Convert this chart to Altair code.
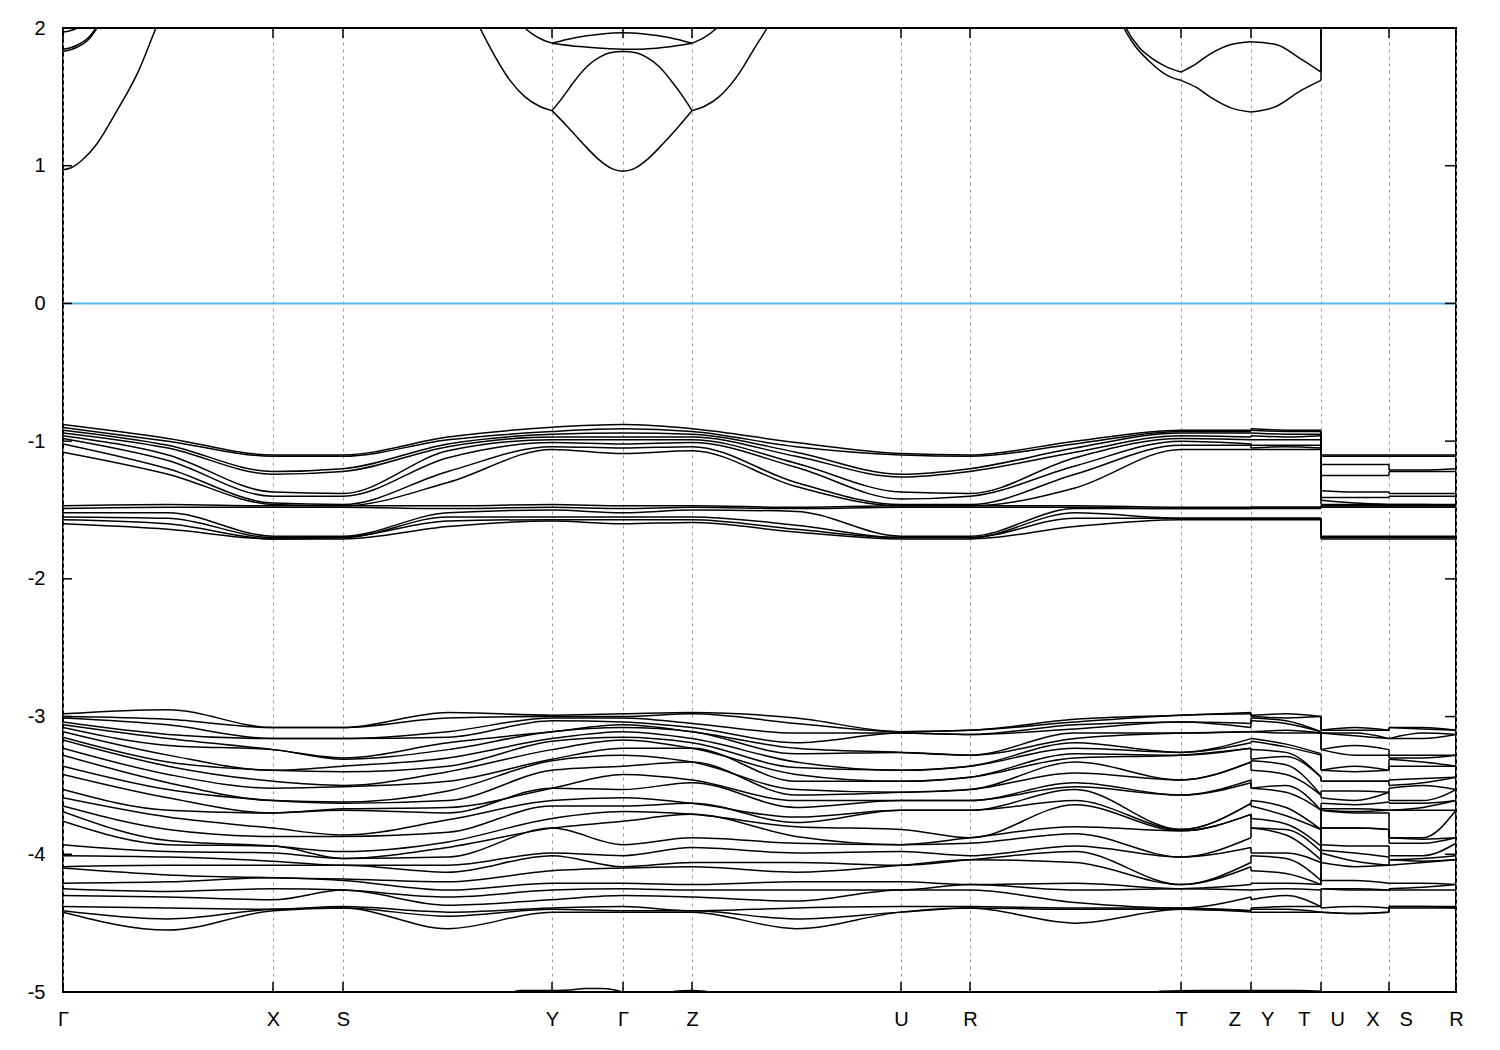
import altair as alt
import pandas as pd

FONT = "Liberation Sans Narrow, Liberation Sans, Arial, sans-serif"

# high-symmetry points along the k-path (path distance)
KPOS = [0, 210, 280, 489, 560, 629, 838, 907, 1118, 1188, 1258, 1326, 1393]
KLAB = ["Γ", "X", "S", "Y", "Γ", "Z", "U", "R", "T", "Z\u2003Y", "T\u2003U", "X\u2003S", "R"]
YTICKS = [-5, -4, -3, -2, -1, 0, 1, 2]

# sample positions of each path segment
K_SEG1 = [0, 105, 210, 280, 385, 489, 560, 629, 733, 838, 907, 1012, 1118, 1188]
K_SEG2 = [1188, 1223, 1258]
K_SEG3 = [1258, 1292, 1326]
K_SEG4 = [1326, 1360, 1393]

# ---- upper valence group (14 bands), energies (eV) at each sample point ----
VB1_SEG1 = [
    [-0.88, -0.90, -0.92, -0.94, -0.96, -0.98, -1.02, -1.08, -1.47, -1.49, -1.52, -1.55, -1.57, -1.60],
    [-0.98, -1.00, -1.03, -1.05, -1.10, -1.14, -1.20, -1.24, -1.46, -1.48, -1.52, -1.56, -1.60, -1.64],
    [-1.10, -1.11, -1.22, -1.24, -1.37, -1.40, -1.45, -1.46, -1.47, -1.48, -1.69, -1.70, -1.71, -1.71],
    [-1.10, -1.11, -1.20, -1.22, -1.38, -1.40, -1.46, -1.47, -1.47, -1.48, -1.69, -1.70, -1.70, -1.71],
    [-0.97, -0.99, -1.02, -1.04, -1.07, -1.12, -1.22, -1.30, -1.47, -1.49, -1.52, -1.55, -1.58, -1.62],
    [-0.90, -0.93, -0.95, -0.97, -0.99, -1.01, -1.04, -1.06, -1.46, -1.48, -1.50, -1.55, -1.57, -1.58],
    [-0.88, -0.91, -0.94, -0.97, -0.99, -1.02, -1.05, -1.09, -1.47, -1.49, -1.52, -1.55, -1.57, -1.60],
    [-0.91, -0.93, -0.95, -0.97, -0.99, -1.01, -1.04, -1.07, -1.47, -1.48, -1.50, -1.55, -1.57, -1.59],
    [-1.01, -1.04, -1.08, -1.11, -1.16, -1.19, -1.30, -1.33, -1.48, -1.49, -1.51, -1.61, -1.64, -1.66],
    [-1.09, -1.10, -1.24, -1.26, -1.37, -1.42, -1.46, -1.47, -1.47, -1.48, -1.69, -1.70, -1.70, -1.71],
    [-1.10, -1.11, -1.20, -1.22, -1.38, -1.40, -1.46, -1.47, -1.47, -1.48, -1.69, -1.70, -1.70, -1.71],
    [-1.00, -1.02, -1.05, -1.08, -1.12, -1.18, -1.24, -1.34, -1.47, -1.48, -1.49, -1.52, -1.56, -1.62],
    [-0.92, -0.93, -0.94, -0.96, -0.98, -1.00, -1.03, -1.06, -1.48, -1.49, -1.49, -1.56, -1.56, -1.57],
    [-0.92, -0.93, -0.94, -0.97, -0.99, -1.02, -1.03, -1.06, -1.48, -1.49, -1.49, -1.56, -1.56, -1.57],
]
VB1_SEG2 = [
    [-0.91, -0.92, -0.94, -0.96, -0.99, -1.03, -1.05, -1.06, -1.48, -1.48, -1.49, -1.56, -1.56, -1.57],
    [-0.92, -0.93, -0.95, -0.97, -0.99, -1.03, -1.04, -1.06, -1.48, -1.48, -1.49, -1.56, -1.56, -1.57],
    [-0.92, -0.93, -0.95, -0.96, -0.99, -1.03, -1.05, -1.06, -1.48, -1.48, -1.49, -1.56, -1.56, -1.57],
]
VB1_SEG3 = [
    [-1.10, -1.11, -1.17, -1.25, -1.36, -1.41, -1.43, -1.46, -1.47, -1.47, -1.48, -1.69, -1.70, -1.71],
    [-1.10, -1.11, -1.17, -1.25, -1.37, -1.41, -1.45, -1.46, -1.47, -1.47, -1.48, -1.69, -1.70, -1.71],
    [-1.10, -1.11, -1.17, -1.25, -1.37, -1.41, -1.46, -1.46, -1.47, -1.47, -1.48, -1.69, -1.70, -1.71],
]
VB1_SEG4 = [
    [-1.10, -1.11, -1.21, -1.22, -1.38, -1.40, -1.46, -1.46, -1.47, -1.47, -1.48, -1.69, -1.70, -1.71],
    [-1.10, -1.11, -1.21, -1.22, -1.38, -1.40, -1.46, -1.46, -1.47, -1.47, -1.48, -1.69, -1.70, -1.71],
    [-1.10, -1.11, -1.20, -1.22, -1.38, -1.40, -1.46, -1.47, -1.47, -1.47, -1.48, -1.69, -1.70, -1.71],
]

# ---- lower valence group (28 bands) ----
VB2_SEG1 = [
    [-2.98, -3.00, -3.01, -3.04, -3.06, -3.08, -3.11, -3.15, -3.17, -3.23, -3.28, -3.36, -3.42, -3.53, -3.59, -3.65, -3.69, -3.76, -3.93, -4.01, -4.09, -4.10, -4.21, -4.25, -4.30, -4.38, -4.41, -4.42],
    [-2.95, -3.02, -3.06, -3.13, -3.16, -3.21, -3.28, -3.33, -3.36, -3.42, -3.48, -3.53, -3.59, -3.68, -3.73, -3.82, -3.90, -3.93, -3.98, -4.02, -4.08, -4.15, -4.20, -4.27, -4.31, -4.39, -4.47, -4.55],
    [-3.08, -3.08, -3.16, -3.16, -3.24, -3.24, -3.39, -3.39, -3.47, -3.52, -3.61, -3.61, -3.70, -3.70, -3.81, -3.87, -3.94, -3.94, -3.99, -4.05, -4.08, -4.17, -4.17, -4.25, -4.33, -4.40, -4.40, -4.41],
    [-3.08, -3.08, -3.16, -3.16, -3.30, -3.31, -3.36, -3.40, -3.50, -3.51, -3.62, -3.63, -3.67, -3.68, -3.86, -3.87, -3.98, -4.03, -4.03, -4.08, -4.08, -4.18, -4.19, -4.26, -4.26, -4.38, -4.39, -4.39],
    [-2.97, -3.01, -3.11, -3.15, -3.19, -3.24, -3.30, -3.36, -3.40, -3.47, -3.54, -3.61, -3.66, -3.70, -3.75, -3.84, -3.91, -3.95, -4.02, -4.08, -4.13, -4.20, -4.26, -4.31, -4.37, -4.42, -4.45, -4.54],
    [-2.99, -3.00, -3.01, -3.03, -3.11, -3.11, -3.16, -3.18, -3.24, -3.31, -3.32, -3.39, -3.52, -3.52, -3.61, -3.65, -3.74, -3.81, -3.81, -3.99, -4.01, -4.12, -4.21, -4.26, -4.33, -4.39, -4.40, -4.42],
    [-2.98, -3.00, -3.01, -3.04, -3.06, -3.08, -3.11, -3.15, -3.17, -3.23, -3.28, -3.36, -3.42, -3.53, -3.59, -3.65, -3.69, -3.76, -3.93, -4.01, -4.09, -4.10, -4.21, -4.25, -4.30, -4.38, -4.41, -4.42],
    [-2.97, -2.98, -3.05, -3.08, -3.11, -3.11, -3.16, -3.19, -3.23, -3.23, -3.33, -3.33, -3.46, -3.48, -3.63, -3.63, -3.71, -3.71, -3.88, -3.95, -4.06, -4.09, -4.22, -4.26, -4.31, -4.41, -4.41, -4.42],
    [-3.01, -3.05, -3.12, -3.19, -3.23, -3.27, -3.33, -3.37, -3.42, -3.47, -3.53, -3.57, -3.61, -3.66, -3.73, -3.77, -3.80, -3.87, -3.92, -3.99, -4.06, -4.13, -4.20, -4.26, -4.34, -4.39, -4.47, -4.54],
    [-3.11, -3.11, -3.12, -3.12, -3.26, -3.26, -3.39, -3.39, -3.47, -3.47, -3.55, -3.55, -3.61, -3.61, -3.68, -3.68, -3.82, -3.93, -3.93, -3.98, -4.08, -4.08, -4.20, -4.26, -4.26, -4.38, -4.42, -4.42],
    [-3.10, -3.10, -3.13, -3.13, -3.28, -3.28, -3.36, -3.36, -3.44, -3.44, -3.53, -3.53, -3.61, -3.61, -3.68, -3.68, -3.88, -3.88, -3.92, -4.01, -4.04, -4.04, -4.22, -4.22, -4.26, -4.38, -4.39, -4.39],
    [-3.02, -3.04, -3.06, -3.09, -3.12, -3.16, -3.19, -3.23, -3.27, -3.30, -3.33, -3.41, -3.48, -3.51, -3.53, -3.61, -3.64, -3.80, -3.85, -3.94, -3.98, -4.06, -4.21, -4.26, -4.35, -4.39, -4.40, -4.50],
    [-2.99, -2.99, -3.04, -3.04, -3.12, -3.12, -3.26, -3.26, -3.28, -3.28, -3.46, -3.46, -3.57, -3.57, -3.82, -3.82, -3.83, -3.83, -4.02, -4.02, -4.22, -4.22, -4.25, -4.25, -4.39, -4.39, -4.40, -4.40],
    [-2.97, -2.98, -3.05, -3.08, -3.11, -3.11, -3.16, -3.19, -3.23, -3.23, -3.33, -3.33, -3.46, -3.48, -3.63, -3.63, -3.71, -3.71, -3.88, -3.95, -4.06, -4.09, -4.22, -4.26, -4.31, -4.41, -4.41, -4.42],
]
VB2_SEG2 = [
    [-2.99, -3.00, -3.01, -3.03, -3.11, -3.11, -3.16, -3.18, -3.24, -3.31, -3.32, -3.39, -3.52, -3.52, -3.61, -3.65, -3.74, -3.81, -3.81, -3.99, -4.01, -4.12, -4.21, -4.26, -4.33, -4.39, -4.40, -4.42],
    [-2.98, -3.01, -3.03, -3.05, -3.10, -3.12, -3.20, -3.22, -3.26, -3.29, -3.35, -3.42, -3.50, -3.55, -3.66, -3.72, -3.78, -3.82, -3.86, -3.99, -4.03, -4.14, -4.21, -4.25, -4.30, -4.38, -4.40, -4.42],
    [-3.00, -3.00, -3.11, -3.11, -3.12, -3.12, -3.27, -3.28, -3.44, -3.44, -3.57, -3.57, -3.68, -3.68, -3.82, -3.82, -3.94, -3.98, -4.04, -4.06, -4.19, -4.22, -4.22, -4.26, -4.38, -4.38, -4.42, -4.42],
]
VB2_SEG3 = [
    [-3.10, -3.10, -3.12, -3.12, -3.24, -3.24, -3.39, -3.39, -3.47, -3.47, -3.54, -3.59, -3.63, -3.67, -3.68, -3.68, -3.81, -3.81, -3.93, -3.97, -3.99, -4.06, -4.19, -4.25, -4.25, -4.39, -4.42, -4.42],
    [-3.08, -3.10, -3.12, -3.14, -3.21, -3.28, -3.36, -3.40, -3.47, -3.47, -3.54, -3.61, -3.64, -3.67, -3.69, -3.70, -3.81, -3.81, -3.94, -3.99, -4.05, -4.09, -4.19, -4.25, -4.26, -4.38, -4.43, -4.43],
    [-3.10, -3.10, -3.16, -3.16, -3.24, -3.28, -3.39, -3.39, -3.47, -3.47, -3.55, -3.55, -3.62, -3.68, -3.68, -3.70, -3.82, -3.82, -3.94, -4.02, -4.08, -4.08, -4.21, -4.26, -4.26, -4.39, -4.42, -4.42],
]
VB2_SEG4 = [
    [-3.08, -3.08, -3.16, -3.16, -3.28, -3.30, -3.31, -3.36, -3.46, -3.50, -3.52, -3.61, -3.63, -3.68, -3.68, -3.88, -3.88, -3.92, -4.01, -4.04, -4.04, -4.08, -4.21, -4.25, -4.26, -4.38, -4.38, -4.39],
    [-3.08, -3.09, -3.12, -3.16, -3.28, -3.30, -3.33, -3.36, -3.45, -3.48, -3.50, -3.61, -3.63, -3.66, -3.68, -3.88, -3.89, -3.92, -4.01, -4.03, -4.05, -4.06, -4.21, -4.24, -4.26, -4.38, -4.38, -4.39],
    [-3.10, -3.10, -3.13, -3.13, -3.28, -3.28, -3.36, -3.36, -3.44, -3.44, -3.53, -3.53, -3.61, -3.61, -3.68, -3.68, -3.88, -3.88, -3.92, -4.01, -4.04, -4.04, -4.22, -4.22, -4.26, -4.38, -4.39, -4.39],
]

# ---- conduction-band pieces (k, E), clipped at 2 eV ----
CB_PIECES = [
    ([0, 8, 19, 34, 54, 75, 93, 100], [0.97, 0.985, 1.04, 1.16, 1.40, 1.68, 2.0, 2.12]),
    ([0, 14, 26, 34, 39], [1.83, 1.86, 1.92, 2.0, 2.06]),
    ([0, 14, 26, 34, 39], [1.845, 1.875, 1.935, 2.01, 2.07]),
    ([0, 7, 14, 21], [1.97, 1.98, 2.0, 2.04]),
    ([407, 417, 427, 447, 462, 477, 489], [2.15, 2.0, 1.86, 1.62, 1.50, 1.43, 1.40]),
    ([489, 505, 520, 535, 550, 560, 570, 585, 600, 615, 629], [1.40, 1.28, 1.16, 1.05, 0.975, 0.96, 0.975, 1.05, 1.16, 1.28, 1.40]),
    ([629, 641, 656, 677, 692, 704, 714], [1.40, 1.43, 1.50, 1.68, 1.86, 2.0, 2.15]),
    ([489, 498, 511, 524, 537, 547, 560, 573, 583, 596, 609, 622, 629], [1.40, 1.48, 1.61, 1.72, 1.79, 1.82, 1.83, 1.82, 1.79, 1.72, 1.61, 1.48, 1.40]),
    ([455, 462, 478, 489], [2.06, 2.0, 1.92, 1.89]),
    ([489, 517, 547, 572, 602, 629], [1.89, 1.865, 1.85, 1.845, 1.86, 1.89]),
    ([489, 512, 537, 560, 583, 607, 629], [1.89, 1.93, 1.955, 1.965, 1.955, 1.93, 1.89]),
    ([629, 641, 654, 661], [1.89, 1.93, 2.0, 2.05]),
    ([1055, 1061, 1071, 1086, 1099, 1109, 1118], [2.1, 2.0, 1.88, 1.76, 1.68, 1.64, 1.62]),
    ([1057, 1063, 1076, 1089, 1103, 1118], [2.1, 2.0, 1.86, 1.78, 1.72, 1.68]),
    ([1118, 1133, 1147, 1168, 1188], [1.62, 1.57, 1.50, 1.42, 1.39]),
    ([1118, 1133, 1147, 1168, 1188], [1.68, 1.74, 1.81, 1.88, 1.90]),
    ([1188, 1213, 1239, 1258], [1.90, 1.88, 1.77, 1.68]),
    ([1188, 1213, 1239, 1258], [1.39, 1.43, 1.55, 1.62]),
]
CB_JUMPS = [(1258, 1.62, 2.2), (1258, 1.68, 2.2)]

# ---- bands just above the -5 eV edge ----
LOW_PIECES = [
    ([442, 457, 482, 507, 522, 537, 552, 567], [-5.03, -4.99, -4.99, -4.985, -4.975, -4.975, -4.985, -5.02]),
    ([602, 612, 627, 642, 652], [-5.02, -4.995, -4.99, -4.995, -5.02]),
    ([1087, 1097, 1137, 1188, 1237, 1258], [-5.02, -4.995, -4.99, -4.99, -4.99, -4.995]),
]

FERMI = [0.0]

# ---------------- build tables ----------------
rows, jumps = [], []


def add_group(name, segs):
    prev_end = None
    for s, (kg, cols) in enumerate(segs):
        nb = len(cols[0])
        for k, col in zip(kg, cols):
            for b, e in enumerate(col):
                rows.append({"k": k, "e": e, "line": f"{name}-{b}-{s}"})
        if prev_end is not None:
            for b in range(nb):
                jumps.append({"k": kg[0], "e1": prev_end[b], "e2": cols[0][b]})
        prev_end = cols[-1]


add_group("vb1", [(K_SEG1, VB1_SEG1), (K_SEG2, VB1_SEG2), (K_SEG3, VB1_SEG3), (K_SEG4, VB1_SEG4)])
add_group("vb2", [(K_SEG1, VB2_SEG1), (K_SEG2, VB2_SEG2), (K_SEG3, VB2_SEG3), (K_SEG4, VB2_SEG4)])
for i, (ks, es) in enumerate(CB_PIECES + LOW_PIECES):
    for k, e in zip(ks, es):
        rows.append({"k": k, "e": e, "line": f"piece-{i}"})
for k, e1, e2 in CB_JUMPS:
    jumps.append({"k": k, "e1": e1, "e2": e2})

df = pd.DataFrame(rows)
jdf = pd.DataFrame(jumps)

W, H = 1393, 964
LW = 1.5
xs = alt.Scale(domain=[0, 1393], nice=False, zero=False)
ys = alt.Scale(domain=[-5, 2], nice=False, zero=False)

label_expr = ("[" + ",".join(f"'{l}'" for l in KLAB) + "][indexof(["
              + ",".join(str(k) for k in KPOS) + "], datum.value)]")

xaxis = alt.Axis(values=KPOS, labelExpr=label_expr, grid=True, gridDash=[3, 4],
                 gridColor="#9a9a9a", gridWidth=1, ticks=False, domain=False, title=None,
                 labelFontSize=20, labelFont=FONT, labelColor="black", labelPadding=17,
                 labelFlush=False, labelOverlap=False)
yaxis = alt.Axis(values=YTICKS, labelExpr="'' + datum.value", grid=False, ticks=False,
                 domain=False, title=None, labelFontSize=20, labelFont=FONT,
                 labelColor="black", labelPadding=18, labelOverlap=False)

X = alt.X("k:Q", scale=xs, axis=xaxis)
Y = alt.Y("e:Q", scale=ys, axis=yaxis)

fermi = alt.Chart(pd.DataFrame({"e": FERMI})).mark_rule(color="#56B4E9", strokeWidth=2).encode(y=Y)

bands = alt.Chart(df).mark_line(color="black", strokeWidth=LW, interpolate="monotone", clip=True).encode(
    x=X, y=Y, detail="line:N", order="k:Q")

jump_rules = alt.Chart(jdf).mark_rule(color="black", strokeWidth=LW, clip=True).encode(
    x=X, y=alt.Y("e1:Q", scale=ys, axis=yaxis), y2="e2:Q")

ytick_df = pd.DataFrame({"e": YTICKS})
ytl = alt.Chart(ytick_df).mark_rule(color="black", strokeWidth=1.5).encode(
    y=Y, x=alt.value(0), x2=alt.value(9))
ytr = alt.Chart(ytick_df).mark_rule(color="black", strokeWidth=1.5).encode(
    y=Y, x=alt.value(W - 11), x2=alt.value(W))
ktick_df = pd.DataFrame({"k": KPOS})
xtt = alt.Chart(ktick_df).mark_rule(color="black", strokeWidth=1.5).encode(
    x=X, y=alt.value(0), y2=alt.value(10))
xtb = alt.Chart(ktick_df).mark_rule(color="black", strokeWidth=1.5).encode(
    x=X, y=alt.value(H - 10), y2=alt.value(H))

chart = alt.layer(fermi, bands, jump_rules, ytl, ytr, xtt, xtb).properties(
    width=W, height=H,
    autosize=alt.AutoSizeParams(type="none"),
    padding={"left": 55, "top": 20, "right": 30, "bottom": 45},
    background="white",
).configure_view(stroke="black", strokeWidth=2)

chart.save("out.html", embed_options={"renderer": "svg", "actions": False})
